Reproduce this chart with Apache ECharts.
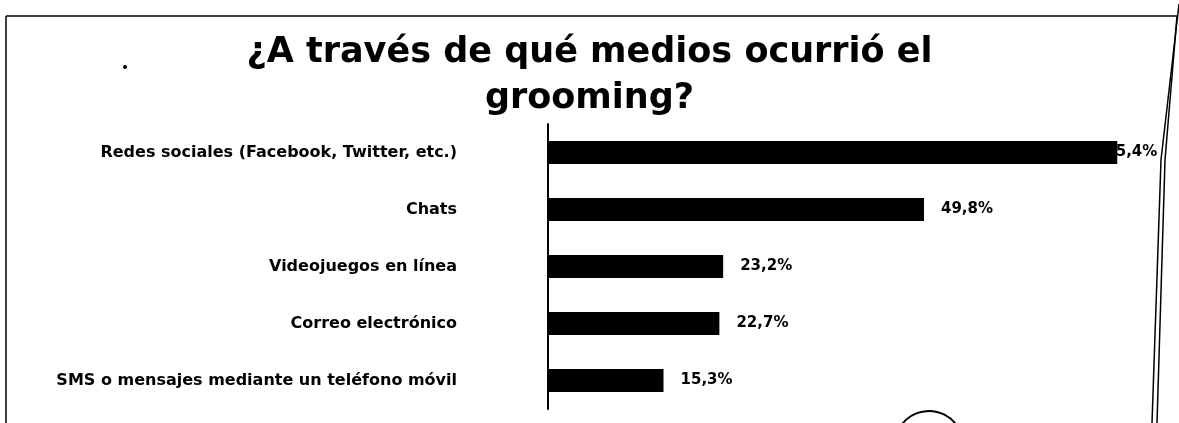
<!DOCTYPE html>
<html>
<head>
<meta charset="utf-8">
<script src="https://cdn.jsdelivr.net/npm/echarts@6/dist/echarts.min.js"></script>
<style>html,body{margin:0;padding:0;background:#fff;}#c{width:1179px;height:423px;}</style>
</head>
<body>
<div id="c"></div>
<script>
var titleText = '¿A través de qué medios ocurrió el\ngrooming?';
var categories = [
  'Redes sociales (Facebook, Twitter, etc.)',
  'Chats',
  'Videojuegos en línea',
  'Correo electrónico',
  'SMS o mensajes mediante un teléfono móvil'
];
var values = [75.4, 49.8, 23.2, 22.7, 15.3];
var valueLabels = ['75,4%', '49,8%', '23,2%', '22,7%', '15,3%'];

var chart = echarts.init(document.getElementById('c'));
var font = 'DejaVu Sans';
var data = values.map(function (v, i) {
  var item = { value: v };
  if (i === 0) { item.label = { distance: -12 }; }
  return item;
});
chart.setOption({
  animation: false,
  backgroundColor: '#fff',
  title: {
    text: titleText,
    left: 'center',
    top: 25,
    textStyle: { fontFamily: font, fontWeight: 'bold', fontSize: 35, lineHeight: 46, color: '#000' }
  },
  grid: { left: 548, right: 27, top: 124, bottom: 14, containLabel: false },
  xAxis: {
    type: 'value', min: 0, max: 80, show: false
  },
  yAxis: {
    type: 'category',
    data: categories,
    inverse: true,
    axisLine: { show: true, lineStyle: { color: '#000', width: 2 } },
    axisTick: { show: false },
    axisLabel: { margin: 91, fontFamily: font, fontWeight: 'bold', fontSize: 16, color: '#000' }
  },
  series: [{
    type: 'bar',
    data: data,
    barWidth: 23,
    itemStyle: { color: '#000' },
    label: {
      show: true,
      position: 'right',
      distance: 17,
      fontFamily: font,
      fontWeight: 'bold',
      fontSize: 15,
      color: '#000',
      formatter: function (p) { return valueLabels[p.dataIndex]; }
    }
  }],
  graphic: [
    { type: 'line', shape: { x1: 6, y1: 16, x2: 1177, y2: 16 }, style: { stroke: '#000', lineWidth: 1.5 } },
    { type: 'line', shape: { x1: 6, y1: 16, x2: 6, y2: 423 }, style: { stroke: '#000', lineWidth: 1.5 } },
    { type: 'polyline', shape: { points: [[1177, 16], [1165, 160], [1157, 423]] }, style: { stroke: '#000', lineWidth: 1.5, fill: null } },
    { type: 'polyline', shape: { points: [[1179, 4], [1161, 160], [1152, 423]] }, style: { stroke: '#000', lineWidth: 1.5, fill: null } },
    { type: 'circle', shape: { cx: 125, cy: 67, r: 2 }, style: { fill: '#000' } },
    { type: 'arc', shape: { cx: 929, cy: 445, r: 34, startAngle: Math.PI * 1.15, endAngle: Math.PI * 1.85 }, style: { stroke: '#000', lineWidth: 2, fill: null } }
  ]
});
</script>
</body>
</html>
